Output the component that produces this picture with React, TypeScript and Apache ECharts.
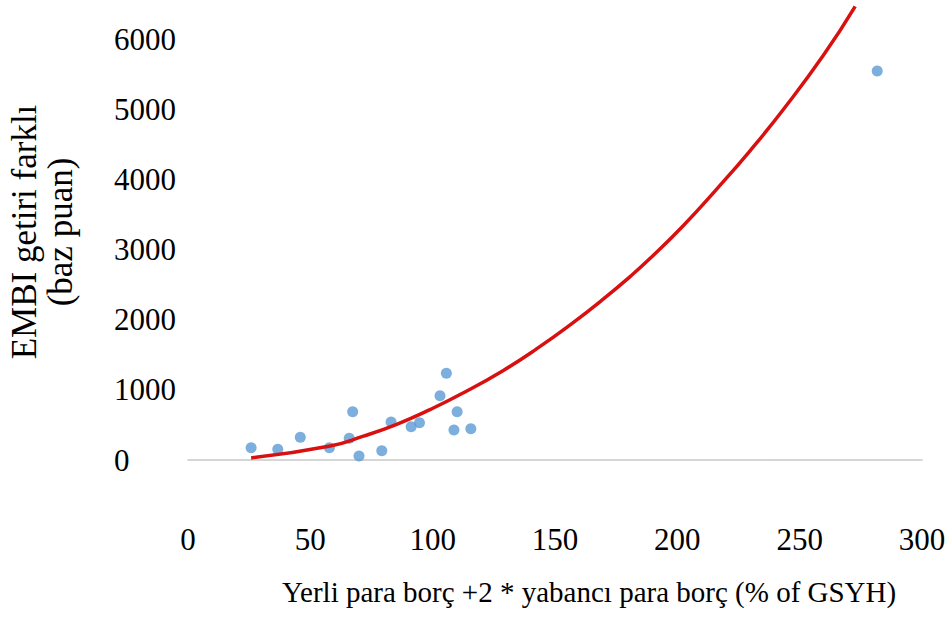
import React, { useEffect, useRef } from "react";
import * as echarts from "echarts";

// Scatter observations: [debt measure (% of GSYH), EMBI spread (bp)]
const scatterX = [25.8, 36.7, 45.9, 57.8, 65.9, 67.3, 69.9, 79.2, 83.0, 91.2, 94.6, 103.0, 105.6, 110.0, 108.7, 115.6, 281.7];
const scatterY = [176, 153, 324, 176, 310, 690, 57, 133, 543, 476, 533, 919, 1239, 690, 429, 447, 5557];

// Trend line
const trendX = [25.8, 58.1, 71.7, 85.3, 98.9, 112.6, 128.9, 142.6, 156.2, 169.8, 180.7, 188.9, 202.5, 216.1, 229.8, 243.4, 259.7, 272.7];
const trendY = [30, 200, 340, 510, 720, 960, 1280, 1590, 1930, 2300, 2620, 2880, 3350, 3870, 4420, 5010, 5780, 6480];

const xTicks = { min: 0, max: 300, interval: 50 };
const yTicks = { min: 0, max: 6570, interval: 1000 };

const xTitle = "Yerli para borç +2 * yabancı para borç (% of GSYH)";
const yTitle = "EMBI getiri farklı\n(baz puan)";

const FONT = "'Liberation Serif', 'Times New Roman', serif";

export default function App() {
  const ref = useRef<HTMLDivElement>(null);
  useEffect(() => {
    if (!ref.current) return;
    const chart = echarts.init(ref.current, undefined, { renderer: "svg" });
    chart.setOption({
      animation: false,
      backgroundColor: "#ffffff",
      grid: { left: 188, right: 27, top: 0, bottom: 163 },
      xAxis: {
        type: "value",
        min: xTicks.min,
        max: xTicks.max,
        interval: xTicks.interval,
        axisLine: { show: true, lineStyle: { color: "#c8c8c8", width: 1.5 } },
        axisTick: { show: false },
        splitLine: { show: false },
        axisLabel: { margin: 64, fontSize: 31, color: "#000", fontFamily: FONT },
      },
      yAxis: {
        type: "value",
        min: yTicks.min,
        max: yTicks.max,
        interval: yTicks.interval,
        axisLine: { show: false },
        axisTick: { show: false },
        splitLine: { show: false },
        axisLabel: {
          margin: 74,
          align: "left",
          fontSize: 31,
          color: "#000",
          fontFamily: FONT,
          formatter: (v: number) => (v % 1000 === 0 ? String(v) : ""),
        },
      },
      graphic: [
        {
          type: "text",
          x: 282,
          y: 592,
          style: {
            text: xTitle,
            fontSize: 29,
            fontFamily: FONT,
            fill: "#000",
            textAlign: "left",
            textVerticalAlign: "middle",
          },
        },
        {
          type: "text",
          x: 42,
          y: 232,
          rotation: Math.PI / 2,
          style: {
            text: yTitle,
            fontSize: 35,
            lineHeight: 36,
            fontFamily: FONT,
            fill: "#000",
            textAlign: "center",
            textVerticalAlign: "middle",
          },
        },
      ],
      series: [
        {
          type: "line",
          data: trendX.map((x, i) => [x, trendY[i]]),
          smooth: true,
          showSymbol: false,
          lineStyle: { color: "#d81010", width: 3.5 },
          z: 3,
        },
        {
          type: "scatter",
          data: scatterX.map((x, i) => [x, scatterY[i]]),
          symbolSize: 11,
          itemStyle: { color: "#5b9bd5" },
          z: 2,
        },
      ],
    });
    return () => chart.dispose();
  }, []);
  return (
    <div
      ref={ref}
      style={{ position: "fixed", left: 0, top: 0, width: 949, height: 623 }}
    />
  );
}
